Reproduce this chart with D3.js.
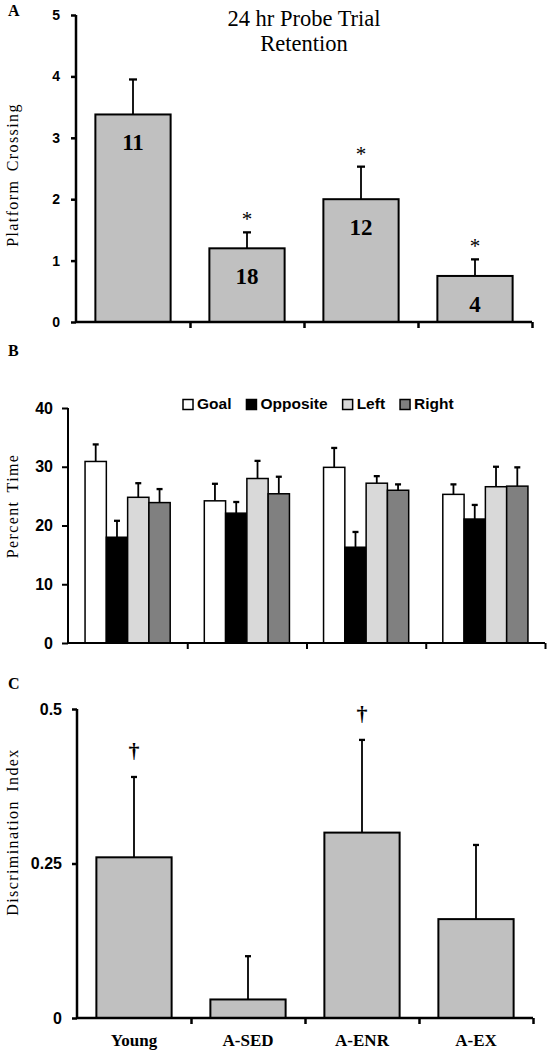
<!DOCTYPE html>
<html><head><meta charset="utf-8">
<script src="https://cdn.jsdelivr.net/npm/d3@7"></script>
<style>
html,body{margin:0;padding:0;background:#fff;}
svg{display:block;}
.serif{font-family:"Liberation Serif","Times New Roman",serif;}
.sans{font-family:"Liberation Sans",Arial,sans-serif;}
</style></head>
<body><svg id="c" width="551" height="1050"></svg>
<script>
// ---- Data ----
const groups = ["Young", "A-SED", "A-ENR", "A-EX"];

// Panel A: platform crossings
const crossMean = [3.38, 1.2, 2.0, 0.75];
const crossErr  = [0.57, 0.26, 0.53, 0.27];
const crossN    = ["11", "18", "12", "4"];
const crossSig  = ["", "*", "*", "*"];
const crossTicks = [0, 1, 2, 3, 4, 5];

// Panel B: percent time by quadrant
const quadrants = ["Goal", "Opposite", "Left", "Right"];
const quadColors = ["#ffffff", "#000000", "#d9d9d9", "#808080"];
const goalTime     = [30.9, 24.2, 29.9, 25.3];
const goalErr      = [2.9, 2.9, 3.3, 1.7];
const oppositeTime = [18.0, 22.1, 16.3, 21.1];
const oppositeErr  = [2.8, 1.9, 2.6, 2.4];
const leftTime     = [24.8, 28.0, 27.2, 26.6];
const leftErr      = [2.4, 3.0, 1.2, 3.4];
const rightTime    = [23.9, 25.4, 26.0, 26.7];
const rightErr     = [2.3, 2.9, 1.0, 3.2];
const timeTicks = [0, 10, 20, 30, 40];

// Panel C: discrimination index
const discMean = [0.26, 0.03, 0.30, 0.16];
const discErr  = [0.13, 0.07, 0.15, 0.12];
const discSig  = ["†", "", "†", ""];
const discTicks = [0, 0.25, 0.5];

// ---- Drawing ----
const svg = d3.select("#c");

function panelLetter(txt, x, y) {
  svg.append("text").attr("class", "serif").attr("x", x).attr("y", y)
    .attr("font-size", 16).attr("font-weight", "bold").text(txt);
}
function yLabel(txt, cx, cy) {
  svg.append("text").attr("class", "serif")
    .attr("transform", `translate(${cx},${cy}) rotate(-90)`)
    .attr("text-anchor", "middle").attr("dominant-baseline", "middle")
    .attr("font-size", 16).attr("letter-spacing", 1.4).attr("word-spacing", 3)
    .text(txt);
}
function drawAxes(g, x0, x1, y, ticks, fmt, fontSize, tickSize, pad, lw) {
  const ya = d3.axisLeft(y).tickValues(ticks).tickFormat(fmt)
    .tickSize(tickSize).tickSizeOuter(0).tickPadding(pad);
  const yg = g.append("g").attr("transform", `translate(${x0},0)`).call(ya);
  yg.select(".domain").attr("stroke-width", lw).attr("d", `M0,${y.range()[0] + 1}V${y.range()[1]}`);
  yg.selectAll(".tick line").attr("stroke-width", lw);
  yg.selectAll("text").attr("class", "sans").attr("font-size", fontSize)
    .attr("font-weight", "bold").attr("fill", "#000");
  const xi = d3.scaleLinear().domain([0, 4]).range([x0, x1]);
  const xa = d3.axisBottom(xi).tickValues([1, 2, 3, 4]).tickFormat("")
    .tickSize(6).tickSizeOuter(0);
  const xg = g.append("g").attr("transform", `translate(0,${y(0)})`).call(xa);
  xg.select(".domain").attr("stroke-width", lw).attr("d", `M${x0},0H${x1}`);
  xg.selectAll(".tick line").attr("stroke-width", lw);
}
function errBar(g, cx, yTop, yBase, cap, lw) {
  g.append("line").attr("x1", cx).attr("x2", cx).attr("y1", yBase).attr("y2", yTop)
    .attr("stroke", "#000").attr("stroke-width", lw);
  g.append("line").attr("x1", cx - cap / 2).attr("x2", cx + cap / 2).attr("y1", yTop).attr("y2", yTop)
    .attr("stroke", "#000").attr("stroke-width", lw + 0.5);
}

// ===== Panel A =====
{
  const g = svg.append("g");
  const x = d3.scaleBand().domain(groups).range([76, 532]).paddingInner(0.34).paddingOuter(0.17);
  const y = d3.scaleLinear().domain([0, 5]).range([322, 15]);
  panelLetter("A", 8, 16);
  g.append("text").attr("class", "serif").attr("x", 304).attr("y", 26)
    .attr("text-anchor", "middle").attr("font-size", 22.5).text("24 hr Probe Trial");
  g.append("text").attr("class", "serif").attr("x", 304).attr("y", 51)
    .attr("text-anchor", "middle").attr("font-size", 22.5).text("Retention");
  yLabel("Platform Crossing", 14, 175);
  groups.forEach((k, i) => {
    const bx = x(k), bw = x.bandwidth(), cx = bx + bw / 2;
    errBar(g, cx, y(crossMean[i] + crossErr[i]), y(crossMean[i]), 8, 1.8);
    g.append("rect").attr("x", bx).attr("y", y(crossMean[i])).attr("width", bw)
      .attr("height", y(0) - y(crossMean[i])).attr("fill", "#c0c0c0")
      .attr("stroke", "#000").attr("stroke-width", 2);
    g.append("text").attr("class", "serif").attr("x", cx).attr("y", y(crossMean[i]) + 36)
      .attr("text-anchor", "middle").attr("font-size", 23).attr("font-weight", "bold").text(crossN[i]);
    if (crossSig[i]) g.append("text").attr("class", "serif").attr("x", cx)
      .attr("y", y(crossMean[i] + crossErr[i]) - 6).attr("text-anchor", "middle")
      .attr("font-size", 21).text(crossSig[i]);
  });
  drawAxes(g, 76, 532, y, crossTicks, d3.format("d"), 14, 5, 11, 2.5);
}

// ===== Panel B =====
{
  const g = svg.append("g");
  const x0 = d3.scaleBand().domain(groups).range([68, 545]).paddingInner(0.286).paddingOuter(0.143);
  const x1 = d3.scaleBand().domain(quadrants).range([0, x0.bandwidth()]);
  const y = d3.scaleLinear().domain([0, 40]).range([643, 408]);
  panelLetter("B", 8, 356);
  yLabel("Percent Time", 14, 506);
  const means = [goalTime, oppositeTime, leftTime, rightTime];
  const errs = [goalErr, oppositeErr, leftErr, rightErr];
  groups.forEach((k, i) => {
    quadrants.forEach((q, j) => {
      const bx = x0(k) + x1(q), bw = x1.bandwidth(), cx = bx + bw / 2;
      const v = means[j][i];
      errBar(g, cx, y(v + errs[j][i]), y(v), 6, 1.8);
      g.append("rect").attr("x", bx).attr("y", y(v)).attr("width", bw)
        .attr("height", y(0) - y(v)).attr("fill", quadColors[j])
        .attr("stroke", "#000").attr("stroke-width", 1.5);
    });
  });
  drawAxes(g, 68, 545, y, timeTicks, d3.format("d"), 16, 6, 9, 2);
  // legend
  let lx = 183;
  const ly = 405;
  quadrants.forEach((q, j) => {
    g.append("rect").attr("x", lx).attr("y", ly - 5.5).attr("width", 10).attr("height", 10)
      .attr("fill", quadColors[j]).attr("stroke", "#000").attr("stroke-width", 1.5);
    const t = g.append("text").attr("class", "sans").attr("x", lx + 14).attr("y", ly)
      .attr("dominant-baseline", "middle").attr("font-size", 15.5).attr("font-weight", "bold").text(q);
    lx += 14 + t.node().getComputedTextLength() + 15;
  });
}

// ===== Panel C =====
{
  const g = svg.append("g");
  const x = d3.scaleBand().domain(groups).range([77, 533]).paddingInner(0.34).paddingOuter(0.17);
  const y = d3.scaleLinear().domain([0, 0.5]).range([1018, 709]);
  panelLetter("C", 8, 689);
  yLabel("Discrimination Index", 14, 832);
  groups.forEach((k, i) => {
    const bx = x(k), bw = x.bandwidth(), cx = bx + bw / 2;
    errBar(g, cx, y(discMean[i] + discErr[i]), y(discMean[i]), 6, 1.8);
    g.append("rect").attr("x", bx).attr("y", y(discMean[i])).attr("width", bw)
      .attr("height", y(0) - y(discMean[i])).attr("fill", "#c0c0c0")
      .attr("stroke", "#000").attr("stroke-width", 2);
    if (discSig[i]) g.append("text").attr("class", "serif").attr("x", cx)
      .attr("y", y(discMean[i] + discErr[i]) - 19).attr("text-anchor", "middle")
      .attr("font-size", 22).attr("font-weight", "bold").text(discSig[i]);
    g.append("text").attr("class", "serif").attr("x", cx).attr("y", 1046)
      .attr("text-anchor", "middle").attr("font-size", 17).attr("font-weight", "bold").text(k);
  });
  drawAxes(g, 77, 533, y, discTicks, d => d === 0 ? "0" : String(d), 16, 5, 10, 2.5);
}
</script></body></html>
